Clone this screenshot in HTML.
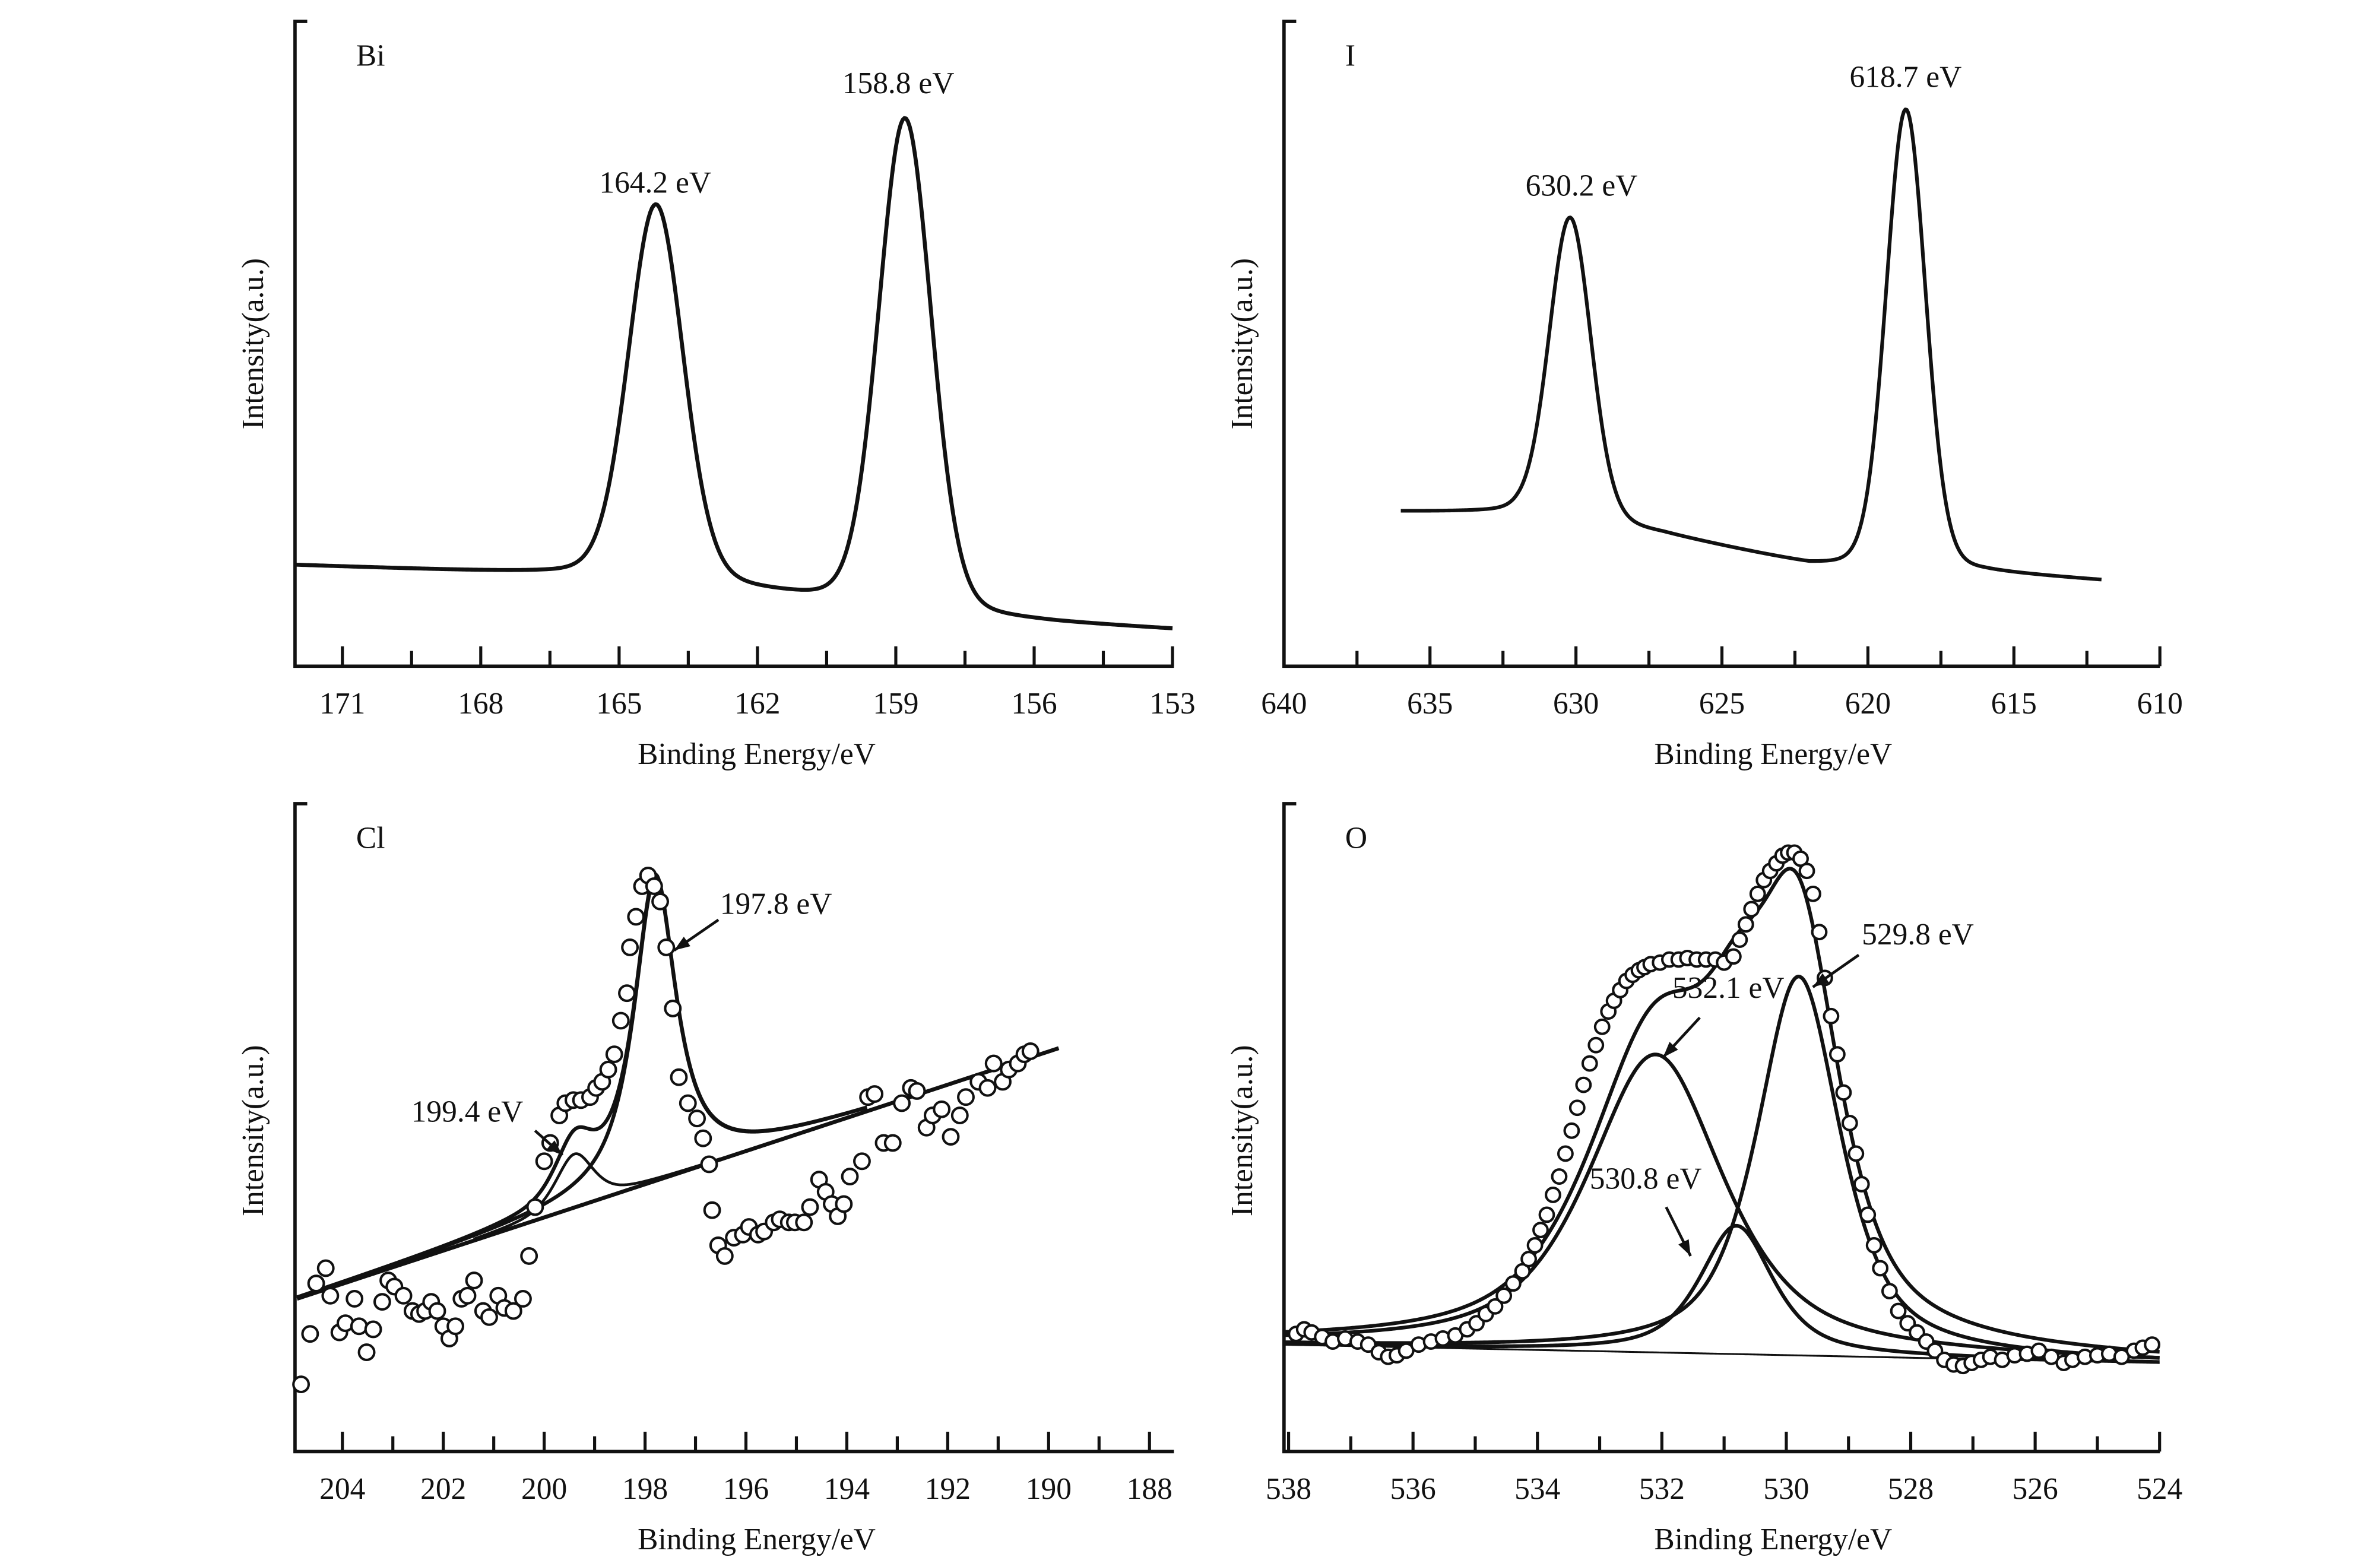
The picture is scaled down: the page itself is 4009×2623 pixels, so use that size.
<!DOCTYPE html>
<html><head><meta charset="utf-8"><title>XPS spectra</title>
<style>html,body{margin:0;padding:0;background:#fff}svg{display:block}text{font-family:"Liberation Serif",serif;fill:#111}</style>
</head><body>
<svg id="chart" xmlns="http://www.w3.org/2000/svg" width="4009" height="2623" viewBox="0 0 1557 1019" preserveAspectRatio="none">
<rect width="1557" height="1019" fill="#fff"/>
</svg>
<script>
// ---- Bi panel data ----
const biPeakPos=[164.2,158.8];
const biPeakH=[246,322];
const biPeakW=[1.4,1.35];
const biBgE=[172,166.5,165,163,161.5,160,157.5,155.5,153];
const biBgI=[66,60,58,52,46,40,32,28,24];
const biTicks=[171,168,165,162,159,156,153];
// ---- I panel data ----
const iPeakPos=[630.2,618.7];
const iPeakH=[198,302];
const iPeakW=[1.7,1.6];
const iBgE=[636,632,630,627,624,622,620,618,616,612];
const iBgI=[101,100,95,86,74,66,63,62,61,56];
const iTicks=[640,635,630,625,620,615,610];
// ---- Cl panel data ----
const clPeakPos=[197.8,199.4];
const clPeakH=[199,35];
const clPeakW=[1.0,0.9];
const clBgE=[204.9,189.8];
const clBgI=[100,264];
const clTicks=[204,202,200,198,196,194,192,190,188];
const clPoints=[[204.82,44],[204.64,77],[204.52,110],[204.33,120],[204.24,102],[204.06,78],[203.94,84],[203.76,100],[203.67,82],[203.52,65],[203.39,80],[203.21,98],[203.09,112],[202.97,108],[202.79,102],[202.61,92],[202.48,90],[202.36,92],[202.24,98],[202.12,92],[202.0,82],[201.88,74],[201.76,82],[201.64,100],[201.52,102],[201.39,112],[201.21,92],[201.09,88],[200.91,102],[200.79,94],[200.61,92],[200.42,100],[200.30,128],[200.18,160],[200.0,190],[199.88,202],[199.70,220],[199.58,228],[199.42,230],[199.27,230],[199.09,232],[198.97,238],[198.85,242],[198.73,250],[198.61,260],[198.48,282],[198.36,300],[198.30,330],[198.18,350],[198.06,370],[197.94,377],[197.82,370],[197.70,360],[197.58,330],[197.45,290],[197.33,245],[197.15,228],[196.97,218],[196.85,205],[196.73,188],[196.67,158],[196.55,135],[196.42,128],[196.24,140],[196.06,142],[195.94,147],[195.76,142],[195.64,144],[195.45,150],[195.33,152],[195.15,150],[195.03,150],[194.85,150],[194.73,160],[194.55,178],[194.42,170],[194.30,162],[194.18,154],[194.06,162],[193.94,180],[193.70,190],[193.58,232],[193.45,234],[193.27,202],[193.09,202],[192.91,228],[192.73,238],[192.61,236],[192.42,212],[192.30,220],[192.12,224],[191.94,206],[191.76,220],[191.64,232],[191.39,242],[191.21,238],[191.09,254],[190.91,242],[190.79,250],[190.61,254],[190.48,260],[190.36,262]];
// ---- O panel data ----
const oPeakPos=[532.1,530.8,529.8];
const oPeakH=[195,84,248];
const oPeakW=[2.6,1.4,1.6];
const oBgE=[538.1,524];
const oBgI=[70,58];
const oTicks=[538,536,534,532,530,528,526,524];
const oPoints=[[537.88,77],[537.75,80],[537.63,78],[537.46,75],[537.29,72],[537.09,74],[536.89,72],[536.72,70],[536.55,65],[536.40,62],[536.26,63],[536.11,66],[535.91,70],[535.71,72],[535.52,74],[535.32,76],[535.13,80],[534.98,84],[534.83,90],[534.68,95],[534.54,102],[534.39,110],[534.24,118],[534.14,126],[534.04,135],[533.95,145],[533.85,155],[533.75,168],[533.65,180],[533.55,195],[533.45,210],[533.36,225],[533.26,240],[533.16,254],[533.06,266],[532.96,278],[532.86,288],[532.77,295],[532.67,302],[532.57,308],[532.47,312],[532.37,315],[532.28,317],[532.18,319],[532.03,320],[531.88,322],[531.73,322],[531.59,323],[531.44,322],[531.29,322],[531.14,322],[531.00,320],[530.85,324],[530.75,335],[530.65,345],[530.56,355],[530.46,365],[530.36,374],[530.26,380],[530.16,385],[530.06,390],[529.97,392],[529.87,392],[529.77,388],[529.67,380],[529.57,365],[529.47,340],[529.38,310],[529.28,285],[529.18,260],[529.08,235],[528.98,215],[528.88,195],[528.79,175],[528.69,155],[528.59,135],[528.49,120],[528.34,105],[528.20,92],[528.05,84],[527.90,78],[527.75,72],[527.61,66],[527.46,60],[527.31,57],[527.16,56],[527.02,58],[526.87,60],[526.72,62],[526.53,60],[526.33,63],[526.13,64],[525.94,66],[525.74,62],[525.54,58],[525.40,60],[525.20,62],[525.00,63],[524.81,64],[524.61,62],[524.41,66],[524.27,68],[524.12,70]];

const NS="http://www.w3.org/2000/svg";
const svg=document.getElementById('chart');
function mk(tag,attrs,parent){const e=document.createElementNS(NS,tag);for(const k in attrs)e.setAttribute(k,attrs[k]);(parent||svg).appendChild(e);return e;}
function pv(e,c,h,w,eta){const d=(e-c)/(w/2);const L=1/(1+d*d);const G=Math.exp(-Math.LN2*d*d);return h*(eta*L+(1-eta)*G);}
function interp(e,E,I){for(let i=0;i<E.length-1;i++){if(e<=E[i]&&e>=E[i+1]){const t=(E[i]-e)/(E[i]-E[i+1]);return I[i]+t*(I[i+1]-I[i]);}}if(e>E[0])return I[0];return I[I.length-1];}

function panel(p){
  const g=mk('g',{});
  
  
  const X=e=>p.x0+(p.e0-e)*p.kx;
  const Y=v=>p.yb-v;
  const ax=mk('path',{d:`M${p.ax0+8},${p.top}H${p.ax0}V${p.yb}H${p.ax1}`,fill:'none',stroke:'#111','stroke-width':2.2},g);
  
  
  for(let e=p.tickStart;e>=p.tickEnd-1e-6;e-=p.minor){
    const major=p.ticks.some(t=>Math.abs(t-e)<1e-6);
    const t=mk('line',{x1:X(e),x2:X(e),y1:p.yb,y2:p.yb-(major?13:10),stroke:'#111','stroke-width':2},g);
    
    
  }
  p.ticks.forEach(v=>{const t=mk('text',{x:X(v),y:p.yb+31,'text-anchor':'middle','font-size':20},g);t.textContent=String(v);
    
    });
  const xt=mk('text',{x:p.titleX,y:p.yb+64,'text-anchor':'middle','font-size':20},g);xt.textContent='Binding Energy/eV';
  
  
  const yt=mk('text',{x:0,y:0,'text-anchor':'middle','font-size':20,transform:`translate(${p.ax0-21},${p.ycen}) rotate(-90)`},g);yt.textContent='Intensity(a.u.)';
  
  
  const lt=mk('text',{x:p.ax0+40,y:p.top+29,'font-size':20},g);lt.textContent=p.label;
  
  
  return {g,X,Y};
}
function curve(g,X,Y,e0,e1,f,sw,name){
  let d='';const n=500;
  for(let i=0;i<=n;i++){const e=e0+(e1-e0)*i/n;d+=(i?'L':'M')+X(e).toFixed(2)+','+Y(f(e)).toFixed(2);}
  const p=mk('path',{d,fill:'none',stroke:'#111','stroke-width':sw,'stroke-linejoin':'round'},g);
  
  
}
function note(g,x,y,txt,arrow){
  const t=mk('text',{x,y,'font-size':20},g);t.textContent=txt;
  
  
  if(arrow){const [x1,y1,x2,y2]=arrow;
    const l=mk('line',{x1,y1,x2,y2,stroke:'#111','stroke-width':1.8},g);
    
    
    const a=Math.atan2(y2-y1,x2-x1),s=11;
    const h=mk('polygon',{points:`${x2},${y2} ${x2-s*Math.cos(a-0.35)},${y2-s*Math.sin(a-0.35)} ${x2-s*Math.cos(a+0.35)},${y2-s*Math.sin(a+0.35)}`,fill:'#111'},g);
    
    }
}
function scatter(g,X,Y,pts,r){pts.forEach(([e,v])=>{const c=mk('circle',{cx:X(e),cy:Y(v),r,fill:'#fff',stroke:'#111','stroke-width':1.6},g);
  
  });}

// Bi
{const P=panel({name:'bi-panel',label:'Bi',x0:224,e0:171,kx:30.17,yb:436,top:14,ax0:193,ax1:768,tickStart:171,tickEnd:153,minor:1.5,ticks:biTicks,titleX:495,ycen:225});
 const f=e=>interp(e,biBgE,biBgI)+biPeakPos.reduce((s,c,i)=>s+pv(e,c,biPeakH[i],biPeakW[i],0.15),0);
 curve(P.g,P.X,P.Y,172,153,f,2.6,'bi-spectrum');
 note(P.g,392,126,'164.2 eV');note(P.g,551,61,'158.8 eV');}
// I
{const P=panel({name:'i-panel',label:'I',x0:840,e0:640,kx:19.1,yb:436,top:14,ax0:840,ax1:1413,tickStart:640,tickEnd:610,minor:2.5,ticks:iTicks,titleX:1160,ycen:225});
 const f=e=>interp(e,iBgE,iBgI)+iPeakPos.reduce((s,c,i)=>s+pv(e,c,iPeakH[i],iPeakW[i],0.15),0);
 curve(P.g,P.X,P.Y,636,612,f,2.4,'i-spectrum');
 note(P.g,998,128,'630.2 eV');note(P.g,1210,57,'618.7 eV');}
// Cl
{const P=panel({name:'cl-panel',label:'Cl',x0:224,e0:204,kx:33,yb:950,top:526,ax0:193,ax1:768,tickStart:204,tickEnd:188,minor:1,ticks:clTicks,titleX:495,ycen:740});
 const bg=e=>interp(e,clBgE,clBgI);
 curve(P.g,P.X,P.Y,204.9,189.8,bg,2.6,'cl-background');
 curve(P.g,P.X,P.Y,201.4,196.5,e=>bg(e)+pv(e,clPeakPos[1],clPeakH[1],clPeakW[1],0.6),1.8,'cl-component-199');
 curve(P.g,P.X,P.Y,204.9,193.6,e=>bg(e)+pv(e,clPeakPos[0],clPeakH[0],clPeakW[0],0.9),2.4,'cl-component-197');
 curve(P.g,P.X,P.Y,204.9,193.6,e=>bg(e)+clPeakPos.reduce((s,c,i)=>s+pv(e,c,clPeakH[i],clPeakW[i],i?0.6:0.9),0),2.4,'cl-envelope');
 scatter(P.g,P.X,P.Y,clPoints,5);
 note(P.g,471,598,'197.8 eV',[470,602,441,622]);note(P.g,269,734,'199.4 eV',[350,740,368,756]);}
// O
{const P=panel({name:'o-panel',label:'O',x0:843,e0:538,kx:40.7,yb:950,top:526,ax0:840,ax1:1413,tickStart:538,tickEnd:524,minor:1,ticks:oTicks,titleX:1160,ycen:740});
 const bg=e=>interp(e,oBgE,oBgI);
 curve(P.g,P.X,P.Y,538.1,524,bg,1.2,'o-background');
 oPeakPos.forEach((c,i)=>curve(P.g,P.X,P.Y,538.1,524,e=>bg(e)+pv(e,c,oPeakH[i],oPeakW[i],0.7),2.4,'o-component-'+i));
 curve(P.g,P.X,P.Y,538.1,524,e=>bg(e)+oPeakPos.reduce((s,c,i)=>s+pv(e,c,oPeakH[i],oPeakW[i],0.7),0),2.4,'o-envelope');
 scatter(P.g,P.X,P.Y,oPoints,4.6);
 note(P.g,1218,618,'529.8 eV',[1216,625,1186,646]);note(P.g,1094,653,'532.1 eV',[1112,666,1088,692]);note(P.g,1040,778,'530.8 eV',[1090,790,1106,822]);}
</script>
</body></html>
